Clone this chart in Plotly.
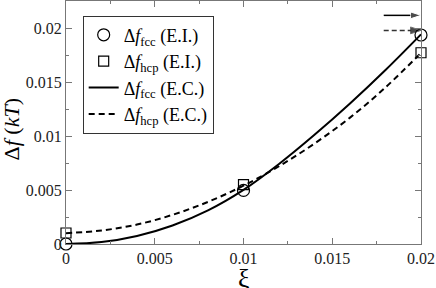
import plotly.graph_objects as go

# E.I. points
xi_pts = [0.0, 0.01, 0.02]
fcc_ei = [0.0, 0.00496, 0.01935]
hcp_ei = [0.00102, 0.00549, 0.01771]

# E.C. curves
xi_curve = [0.0, 0.002, 0.004, 0.006, 0.008, 0.010, 0.012, 0.014, 0.016, 0.018, 0.020]
fcc_ec = [0.0, 0.00018, 0.00074, 0.00171, 0.00311, 0.00501, 0.00741, 0.01011, 0.01301, 0.01611, 0.01941]
hcp_ec = [0.0010, 0.00125, 0.0018, 0.0027, 0.0039, 0.0054, 0.0072, 0.0093, 0.0117, 0.0145, 0.0177]

# limit arrows
arrow_x = [0.0179, 0.0200]
arrow_fcc_y = 0.02117
arrow_hcp_y = 0.01978

x_ticks = [0, 0.005, 0.01, 0.015, 0.02]
x_ticklabels = ["0", "0.005", "0.01", "0.015", "0.02"]
y_ticks = [0, 0.005, 0.01, 0.015, 0.02]
y_ticklabels = ["0", "0.005", "0.01", "0.015", "0.02"]

FONT = "Liberation Serif, Times New Roman, serif"
fig = go.Figure()

fig.add_trace(go.Scatter(x=xi_pts, y=fcc_ei, mode="markers",
                         marker=dict(symbol="circle-open", size=12, color="black", line=dict(width=1.2)),
                         name="Δ<i>f</i><sub>fcc</sub> (E.I.)", cliponaxis=False))
fig.add_trace(go.Scatter(x=xi_pts, y=hcp_ei, mode="markers",
                         marker=dict(symbol="square-open", size=10, color="black", line=dict(width=1.2)),
                         name="Δ<i>f</i><sub>hcp</sub> (E.I.)", cliponaxis=False))
fig.add_trace(go.Scatter(x=xi_curve, y=fcc_ec, mode="lines", line=dict(color="black", width=2, shape="spline"),
                         name="Δ<i>f</i><sub>fcc</sub> (E.C.)"))
fig.add_trace(go.Scatter(x=xi_curve, y=hcp_ec, mode="lines",
                         line=dict(color="black", width=2, dash="6px,4px", shape="spline"),
                         name="Δ<i>f</i><sub>hcp</sub> (E.C.)"))

# arrows
fig.add_trace(go.Scatter(x=arrow_x, y=[arrow_fcc_y] * 2, mode="lines+markers",
                         line=dict(color="black", width=1.5),
                         marker=dict(symbol="arrow", angleref="previous", size=[0, 11], color="black"),
                         showlegend=False, hoverinfo="skip", cliponaxis=False))
fig.add_trace(go.Scatter(x=arrow_x, y=[arrow_hcp_y] * 2, mode="lines+markers",
                         line=dict(color="#333", width=1.5, dash="5px,3px"),
                         marker=dict(symbol="arrow", angleref="previous", size=[0, 11], color="black"),
                         showlegend=False, hoverinfo="skip", cliponaxis=False))

axis_common = dict(showline=True, linecolor="#777", linewidth=1, mirror="allticks",
                   ticks="inside", ticklen=6, tickcolor="#777", showgrid=False, zeroline=False,
                   automargin=False,
                   tickfont=dict(family=FONT, size=16, color="#222"))

fig.update_xaxes(range=[0, 0.02], tickvals=x_ticks, ticktext=x_ticklabels,
                 minor=dict(tickvals=[0.0025, 0.0075, 0.0125, 0.0175], ticks="inside", ticklen=3, tickcolor="#777"),
                 **axis_common)
fig.update_yaxes(range=[0, 0.0225], tickvals=y_ticks, ticktext=y_ticklabels,
                 minor=dict(tickvals=[0.0025, 0.0075, 0.0125, 0.0175], ticks="inside", ticklen=3, tickcolor="#777"),
                 **axis_common)

fig.add_annotation(text="ξ", xref="paper", yref="paper", x=0.5, y=-0.143, yanchor="middle",
                   showarrow=False, font=dict(family=FONT, size=26, color="black"))
fig.add_annotation(text="Δ<i>f</i> (<i>kT</i>)", xref="paper", yref="paper", x=-0.153, y=0.47,
                   xanchor="center", yanchor="middle", textangle=-90,
                   showarrow=False, font=dict(family=FONT, size=22, color="black"))

fig.update_layout(
    width=436, height=288,
    margin=dict(l=66, r=15, t=1, b=44, autoexpand=False),
    plot_bgcolor="white", paper_bgcolor="white",
    font=dict(family=FONT, size=16, color="black"),
    legend=dict(x=0.047, y=0.94, xanchor="left", yanchor="top",
                bordercolor="#333", borderwidth=1, bgcolor="white",
                font=dict(family=FONT, size=18), itemwidth=30, tracegroupgap=0),
    showlegend=True,
)

fig.write_html("out.html", config={"displayModeBar": False},
               post_script="document.body.style.margin='0';document.body.style.padding='0';")
